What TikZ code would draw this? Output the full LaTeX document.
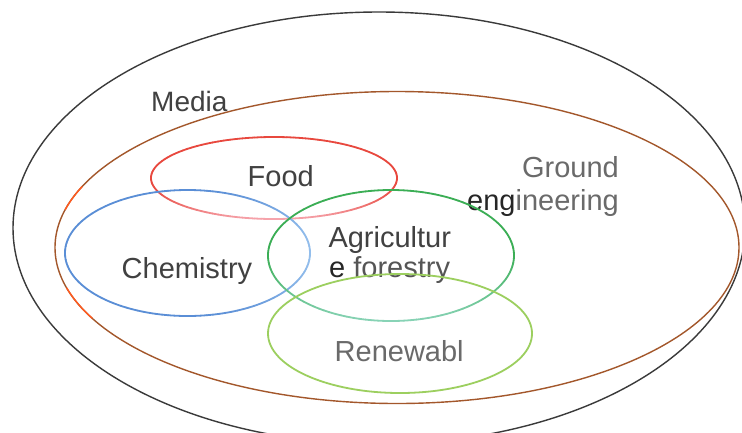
\documentclass[tikz,border=0pt]{standalone}
\usepackage{fontspec}
\setmainfont{Liberation Sans}
\definecolor{inkdark}{HTML}{414141}
\definecolor{inkdeep}{HTML}{262626}
\definecolor{inkmid}{HTML}{555555}
\definecolor{inklight}{HTML}{6A6A6A}
\definecolor{ringblack}{HTML}{3A3A3A}
\definecolor{ringbrown}{HTML}{A3572B}
\definecolor{ringorange}{HTML}{FF5A1F}
\definecolor{foodred}{HTML}{E8483E}
\definecolor{foodpink}{HTML}{F6A4AC}
\definecolor{chemblue}{HTML}{5A8ED6}
\definecolor{chemsky}{HTML}{93BEEC}
\definecolor{agrigreen}{HTML}{3BAE55}
\definecolor{agriteal}{HTML}{88D3B6}
\definecolor{renewgreen}{HTML}{9CCF5F}
% ellipse whose stroke colour shifts from #5 to #6 by the weight #7 (0..100, in \a)
\newcommand\gradring[8]{%
  \foreach \a in {0,3,...,357}{%
    \pgfmathsetmacro\b{\a+3}%
    \pgfmathsetmacro\t{#7}%
    \draw[line width=#8, line cap=round, color=#6!\t!#5]
      plot[domain=\a:\b, samples=4, variable=\u] ({#1+#3*cos(\u)},{#2+#4*sin(\u)});
  }}
\begin{document}
\begin{tikzpicture}[x=1pt,y=-1pt,
  txt/.style={inner sep=0pt, font=\fontsize{29}{31}\selectfont},
  ring/.style={line width=1.4pt}]
\useasboundingbox (0,0) rectangle (742,432);
\fill[white] (0,0) rectangle (742,432);

% labels
\node[txt, text=inkdark, anchor=base west, font=\fontsize{28}{30}\selectfont] (media) at (151,111.7) {Media};
\node[txt, text=inkdark, anchor=base west] (food) at (247.5,186.7) {Food};
\node[txt, text=inkdark, anchor=base west] (chem) at (121.5,278.6) {Chemistry};
\node[txt, text=inkdark, anchor=base west] (agri) at (328.3,247.3) {Agricultur};
\node[txt, text=inkmid, anchor=base west] (agrib) at (329,277) {{\color{inkdeep}e} forestry};
\node[txt, text=inklight, anchor=base east] (ground) at (619,177) {Ground};
\node[txt, text=inklight, anchor=base east] (groundb) at (619,210) {{\color{inkdeep}eng}ineering};
\node[txt, text=inklight, anchor=base west] (renew) at (334.5,361.7) {Renewabl};

% outer sets
\draw[ring, color=ringblack] (379,228) ellipse [x radius=366, y radius=216];
\draw[ring, color=ringbrown] (397,247.5) ellipse [x radius=342, y radius=156];
\draw[ring, color=ringorange] plot[domain=194:203, samples=10, variable=\u] ({397+342*cos(\u)},{247.5+156*sin(\u)});
\draw[ring, color=ringorange] plot[domain=153:165, samples=10, variable=\u] ({397+342*cos(\u)},{247.5+156*sin(\u)});

% inner sets
\gradring{274}{178}{123}{41}{foodred}{foodpink}{100*max(0,sin(\a+1.5))*max(0,sin(\a+1.5))}{1.8pt}
\gradring{187.5}{253}{122.5}{63}{chemblue}{chemsky}{100*max(0,cos(\a+1.5))*max(0,cos(\a+1.5))}{1.8pt}
\gradring{391}{255.5}{123}{65.5}{agrigreen}{agriteal}{100*max(0,sin(\a+1.5))}{1.8pt}
\draw[line width=1.8pt, color=renewgreen] (400,333.5) ellipse [x radius=132, y radius=59.5];
\end{tikzpicture}
\end{document}
